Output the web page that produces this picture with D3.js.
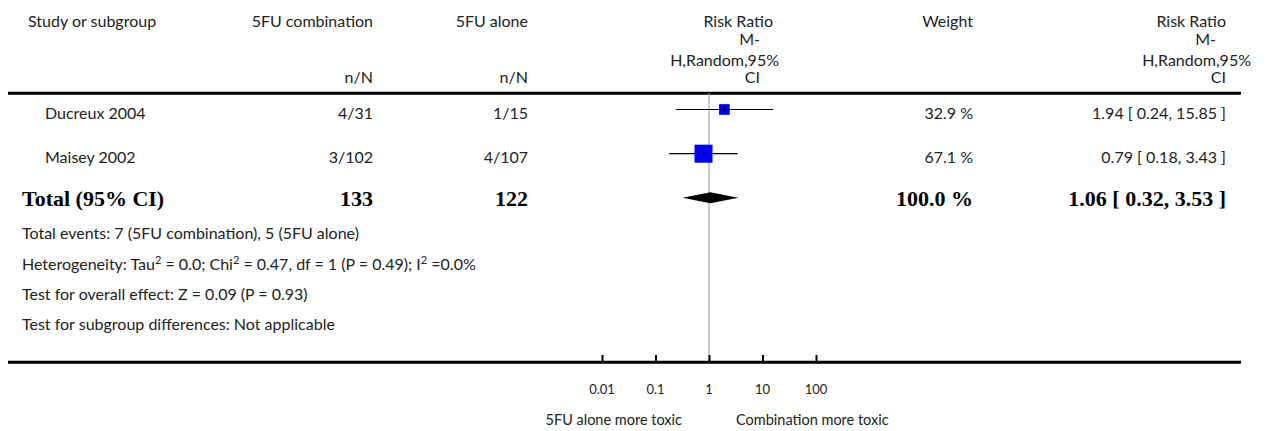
<!DOCTYPE html>
<html><head><meta charset="utf-8">
<script src="https://cdn.jsdelivr.net/npm/d3@7"></script>
<style>body{margin:0;background:#fff}svg{display:block}</style>
</head><body>
<script>
const studies = ["Ducreux 2004", "Maisey 2002"];
const combo = ["4/31", "3/102"];
const alone = ["1/15", "4/107"];
const rr = [1.94, 0.79];
const lo = [0.24, 0.18];
const hi = [15.85, 3.43];
const weights = [32.9, 67.1];
const rrText = ["1.94 [ 0.24, 15.85 ]", "0.79 [ 0.18, 3.43 ]"];
const total = {label: "Total (95% CI)", combo: "133", alone: "122", weight: "100.0 %", rr: 1.06, lo: 0.32, hi: 3.53, text: "1.06 [ 0.32, 3.53 ]"};
const footer = ["Total events: 7 (5FU combination), 5 (5FU alone)",
  "HET", "Test for overall effect: Z = 0.09 (P = 0.93)",
  "Test for subgroup differences: Not applicable"];
const tickValues = [0.01, 0.1, 1, 10, 100];
const tickLabels = ["0.01", "0.1", "1", "10", "100"];
const axisTitles = ["5FU alone more toxic", "Combination more toxic"];

const W = 1270, H = 431;
const svg = d3.select("body").append("svg").attr("width", W).attr("height", H);
const x = d3.scaleLog().domain([0.01, 100]).range([602, 816]);
const rowY = d3.scaleOrdinal().domain(studies).range([109.5, 153.7]);
const sz = d3.scaleLinear().domain([32.9, 67.1]).range([10.7, 18]);
const sans = "Lato, 'Open Sans', sans-serif";
const serif = "'Liberation Serif', 'Times New Roman', serif";
const txtCol = "#222";
const FS = 16;

function t(xp, yp, s, anchor, opts) {
  opts = opts || {};
  return svg.append("text").attr("x", xp).attr("y", yp).attr("text-anchor", anchor || "start")
    .attr("font-family", opts.serif ? serif : sans).attr("font-size", opts.size || FS)
    .attr("font-weight", opts.bold ? "bold" : "normal")
    .attr("fill", opts.bold ? "#000" : txtCol).text(s);
}

// headers
t(28, 27, "Study or subgroup");
t(373, 27, "5FU combination", "end");
t(528, 27, "5FU alone", "end");
t(373, 83, "n/N", "end");
t(528, 83, "n/N", "end");
t(773, 27, "Risk Ratio", "end");
t(760, 45, "M-", "end");
t(779, 66, "H,Random,95%", "end");
t(760, 83, "CI", "end");
t(973, 27, "Weight", "end");
t(1226, 27, "Risk Ratio", "end");
t(1216, 45, "M-", "end");
t(1251, 66, "H,Random,95%", "end");
t(1226, 83, "CI", "end");

// lines
svg.append("line").attr("x1", 8).attr("x2", 1241).attr("y1", 93.3).attr("y2", 93.3).attr("stroke", "#000").attr("stroke-width", 3);
svg.append("line").attr("x1", x(1)).attr("x2", x(1)).attr("y1", 93).attr("y2", 362).attr("stroke", "#999").attr("stroke-width", 1);

// study rows
studies.forEach((s, i) => {
  const y = rowY(s);
  t(45, y + 9, s);
  t(373, y + 9, combo[i], "end");
  t(528, y + 9, alone[i], "end");
  t(973, y + 9, weights[i].toFixed(1) + " %", "end");
  t(1226, y + 9, rrText[i], "end");
  svg.append("line").attr("x1", x(lo[i])).attr("x2", x(hi[i])).attr("y1", y).attr("y2", y).attr("stroke", "#000").attr("stroke-width", 1.2);
  const w = sz(weights[i]);
  svg.append("rect").attr("x", x(rr[i]) - w / 2).attr("y", y - w / 2).attr("width", w).attr("height", w).attr("fill", "#0000ff");
  svg.append("line").attr("x1", x(rr[i])).attr("x2", x(rr[i])).attr("y1", y - 2.5).attr("y2", y + 2.5).attr("stroke", "#000").attr("stroke-width", 1);
  svg.append("line").attr("x1", x(rr[i]) - 2).attr("x2", x(rr[i]) + 2).attr("y1", y).attr("y2", y).attr("stroke", "#000").attr("stroke-width", 1);
});

// total row
const ty = 197.7;
const TS = 22;
t(22, ty + 8, total.label, "start", {serif: true, bold: true, size: TS});
t(373, ty + 8, total.combo, "end", {serif: true, bold: true, size: TS});
t(528, ty + 8, total.alone, "end", {serif: true, bold: true, size: TS});
t(973, ty + 8, total.weight, "end", {serif: true, bold: true, size: TS});
t(1226, ty + 8, total.text, "end", {serif: true, bold: true, size: TS});
svg.append("path").attr("d", d3.line()([[x(total.lo), ty], [x(total.rr), ty - 5.5], [x(total.hi), ty], [x(total.rr), ty + 5.5]]) + "Z").attr("fill", "#000");

// footer
const fy = [239, 270, 300, 330];
t(22, fy[0], footer[0]);
const het = t(22, fy[1], "Heterogeneity: Tau");
het.append("tspan").attr("baseline-shift", "super").attr("font-size", 11).text("2");
het.append("tspan").text(" = 0.0; Chi");
het.append("tspan").attr("baseline-shift", "super").attr("font-size", 11).text("2");
het.append("tspan").text(" = 0.47, df = 1 (P = 0.49); I");
het.append("tspan").attr("baseline-shift", "super").attr("font-size", 11).text("2");
het.append("tspan").text(" =0.0%");
t(22, fy[2], footer[2]);
t(22, fy[3], footer[3]);

// axis
svg.append("line").attr("x1", 8).attr("x2", 1241).attr("y1", 362.3).attr("y2", 362.3).attr("stroke", "#000").attr("stroke-width", 3);
const ax = d3.axisTop(x).tickValues(tickValues).tickSize(6).tickFormat(() => "");
const g = svg.append("g").attr("transform", "translate(0,361)").call(ax);
g.select(".domain").remove();
g.selectAll(".tick line").attr("stroke", "#000").attr("stroke-width", 2);
tickValues.forEach((v, i) => t(x(v), 394, tickLabels[i], "middle", {size: 13}));
t(x(1) - 27, 425, axisTitles[0], "end", {size: 14.5});
t(x(1) + 27, 425, axisTitles[1], "start", {size: 14.5});
</script>
</body></html>
